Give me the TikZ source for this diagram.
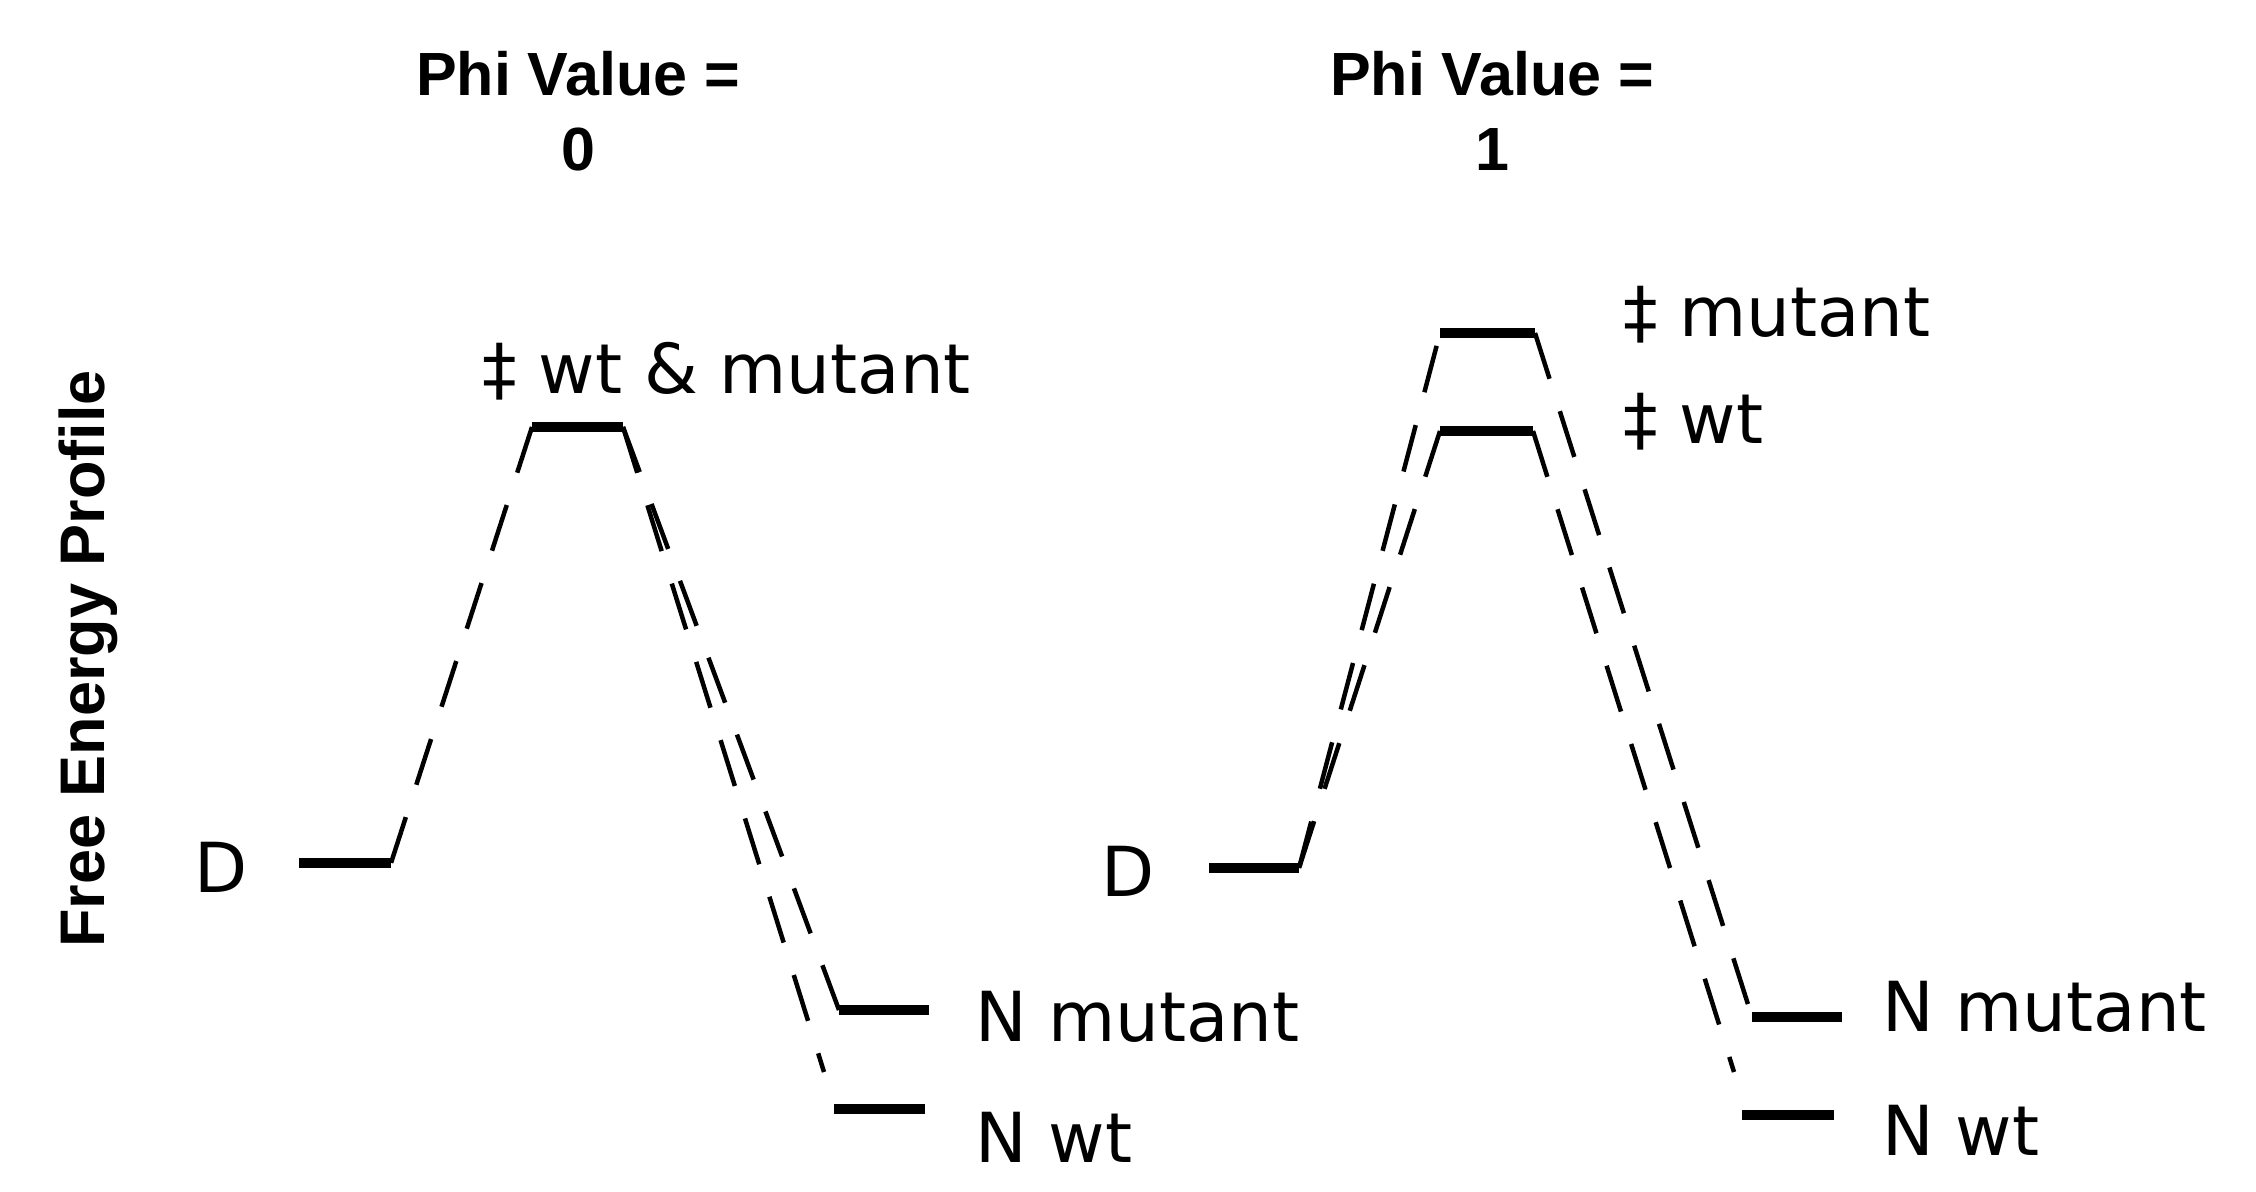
\documentclass[tikz,border=0pt]{standalone}
\usepackage{fontspec}
\setmainfont{DejaVu Sans}
\newfontfamily\titlefont{Liberation Sans}
\begin{document}
\begin{tikzpicture}[x=1pt,y=-1pt,
  bar/.style={line width=10pt},
  dashline/.style={line width=4.5pt,dash pattern=on 48pt off 34pt},
  lbl/.style={anchor=base west,inner sep=0pt,font=\fontsize{69}{80}\selectfont},
  ttl/.style={anchor=base,inner sep=0pt,font=\titlefont\bfseries\fontsize{61}{72}\selectfont}]
\useasboundingbox (0,0) rectangle (2256,1191);
\fill[white] (0,0) rectangle (2256,1191);
% titles
\node[ttl] (t1a) at (578,95) {Phi Value =};
\node[ttl] (t1b) at (578,170) {0};
\node[ttl] (t2a) at (1492,95) {Phi Value =};
\node[ttl] (t2b) at (1492,170) {1};
\node[anchor=base,rotate=90,inner sep=0pt,font=\titlefont\bfseries\fontsize{63}{75}\selectfont] (ylab) at (104,659) {Free Energy Profile};
% left diagram
\coordinate (d1l) at (299,863); \coordinate (d1r) at (391,863);
\coordinate (t1l) at (532,427); \coordinate (t1r) at (623,427);
\coordinate (nm1l) at (839,1010); \coordinate (nm1r) at (929,1010);
\coordinate (nw1l) at (834,1109); \coordinate (nw1r) at (925,1109);
\coordinate (w1end) at (824,1072);
\draw[bar] (d1l) -- (d1r);
\draw[bar] (t1l) -- (t1r);
\draw[bar] (nm1l) -- (nm1r);
\draw[bar] (nw1l) -- (nw1r);
\draw[dashline] (t1l) -- (d1r);
\draw[dashline] (t1r) -- (nm1l);
\draw[dashline] (t1r) -- (w1end);
\node[lbl] (D1) at (194,892) {D};
\node[lbl] (ts1) at (482,393) {‡ wt \& mutant};
\node[lbl] (nm1) at (975,1041) {N mutant};
\node[lbl] (nw1) at (975,1162) {N wt};
% right diagram
\coordinate (d2l) at (1209,868); \coordinate (d2r) at (1299,868);
\coordinate (tm2l) at (1440,333); \coordinate (tm2r) at (1535,333);
\coordinate (tw2l) at (1440,431); \coordinate (tw2r) at (1533,431);
\coordinate (nm2l) at (1752,1017); \coordinate (nm2r) at (1842,1017);
\coordinate (nw2l) at (1742,1115); \coordinate (nw2r) at (1834,1115);
\coordinate (w2end) at (1734,1072);
\draw[bar] (d2l) -- (d2r);
\draw[bar] (tm2l) -- (tm2r);
\draw[bar] (tw2l) -- (tw2r);
\draw[bar] (nm2l) -- (nm2r);
\draw[bar] (nw2l) -- (nw2r);
\draw[dashline] (d2r) -- (tm2l);
\draw[dashline] (tw2l) -- (d2r);
\draw[dashline] (tm2r) -- (nm2l);
\draw[dashline] (tw2r) -- (w2end);
\node[lbl] (D2) at (1101,896) {D};
\node[lbl] (tsm2) at (1623,336) {‡ mutant};
\node[lbl] (tsw2) at (1623,443) {‡ wt};
\node[lbl] (nm2) at (1882,1031) {N mutant};
\node[lbl] (nw2) at (1882,1155) {N wt};
\end{tikzpicture}
\end{document}
